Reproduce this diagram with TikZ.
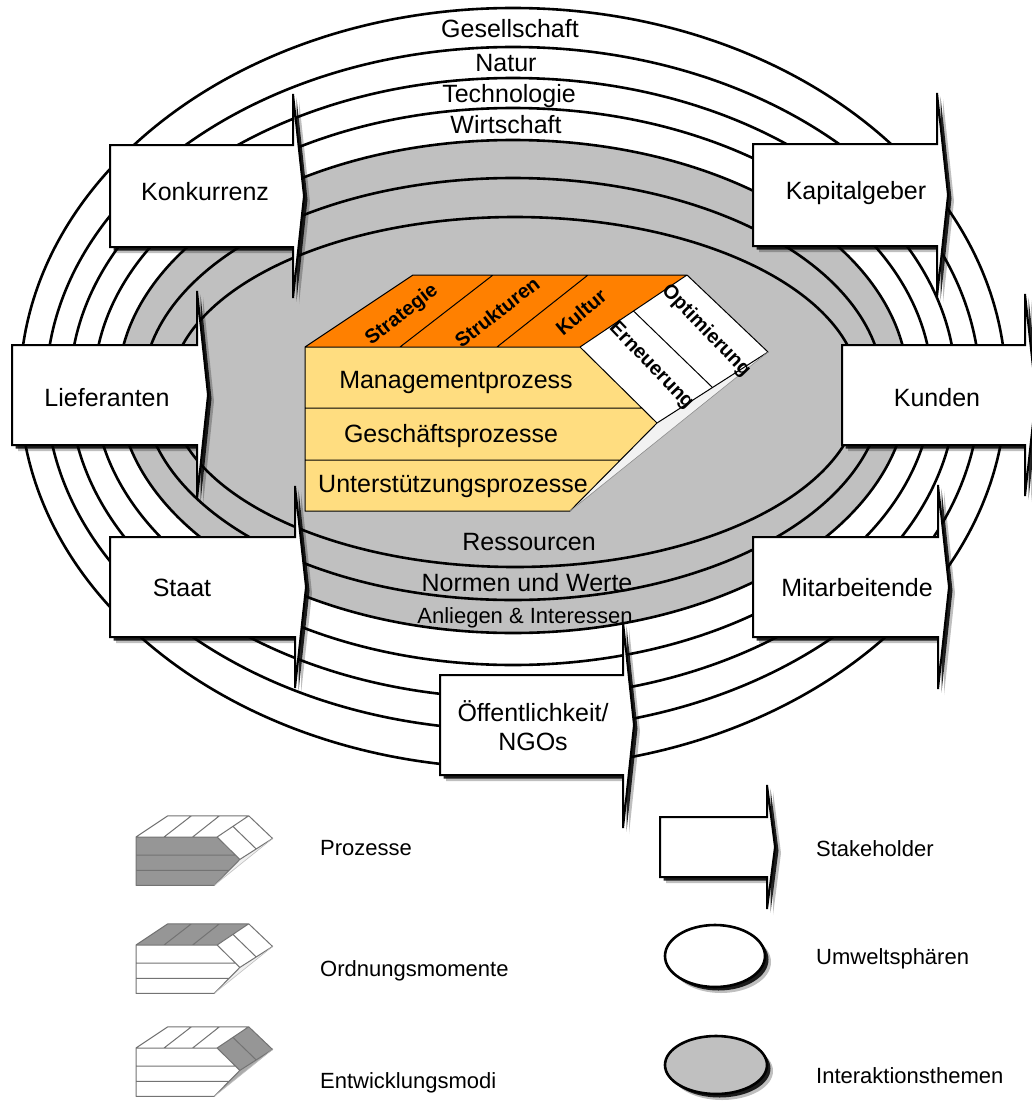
\documentclass[tikz,border=0pt]{standalone}
\usepackage{fontspec}
\setmainfont{Liberation Sans}
\usetikzlibrary{shadows}

\definecolor{ringgrey}{RGB}{192,192,192}
\definecolor{cubeorange}{RGB}{255,128,0}
\definecolor{cubeyellow}{RGB}{255,221,128}
\definecolor{iconfill}{RGB}{150,150,150}
\definecolor{iconline}{RGB}{115,115,115}

\tikzset{
  ring/.style={draw=black, line width=2.6pt},
  sphere/.style={ring, fill=white},
  theme/.style={ring, fill=ringgrey},
  softshadow/.style={
    drop shadow={shadow xshift=6pt, shadow yshift=-6pt, opacity=0.25, fill=black},
    drop shadow={shadow xshift=3.5pt, shadow yshift=-3.5pt, opacity=0.85, fill=black}},
  stakeshape/.style={draw=black, line width=2pt, fill=white, line join=miter, softshadow},
  legendoval/.style={draw=black, line width=2.6pt, softshadow},
  biglabel/.style={font=\fontsize{25}{29}\selectfont, inner sep=0pt, anchor=base},
  smalllabel/.style={font=\fontsize{22}{26}\selectfont, inner sep=0pt, anchor=base},
  legendlabel/.style={font=\fontsize{22}{26}\selectfont, inner sep=0pt, anchor=base west},
  facelabel/.style={font=\fontsize{20}{23}\selectfont\bfseries, inner sep=0pt},
}

% stakeholder arrow: #1 name, #2 left x, #3 head x, #4 centre y,
% #5 half body height, #6 half head height, #7 tip depth
\newcommand\stakearrow[7]{%
  \path[stakeshape] (#2,#4-#5) -- (#3,#4-#5) -- (#3,#4-#6) -- (#3+#7,#4)
     -- (#3,#4+#6) -- (#3,#4+#5) -- (#2,#4+#5) -- cycle;
  \coordinate (#1) at ({(#2+#3)/2},#4);
}

% model block: #1 front, #2 top, #3 end face, #4 underside, #5 edge colour
\newcommand\modelblock[5]{%
  \path[fill=#2] (0,0) -- (108,-72) -- (382,-72) -- (275,0) -- cycle;
  \path[fill=#1] (0,0) -- (275,0) -- (352,76) -- (265,164) -- (0,164) -- cycle;
  \path[fill=#3] (275,0) -- (382,-72) -- (463,5) -- (352,76) -- cycle;
  \path[fill=#4] (352,76) -- (463,5) -- (265,164) -- cycle;
  \draw[#5, line width=1pt, line join=round]
    (0,0) -- (108,-72) -- (382,-72) -- (275,0) -- cycle
    (0,0) -- (275,0) -- (352,76) -- (265,164) -- (0,164) -- cycle
    (382,-72) -- (463,5) -- (352,76)
    (0,61) -- (337,61) (0,113) -- (315,113)
    (95,0) -- (188,-72) (192,0) -- (283,-72)
    (328.5,-36) -- (407.5,40.5);
  \draw[#5!45, line width=0.6pt] (463,5) -- (265,164);
}

\begin{document}
\begin{tikzpicture}[x=1pt, y=-1pt]
  \useasboundingbox (0,0) rectangle (1032,1103);
  \fill[white] (0,0) rectangle (1032,1103);

  % environment spheres and interaction themes
  \draw[sphere] (513,388) ellipse [x radius=493, y radius=380];
  \draw[sphere] (513,388.5) ellipse [x radius=467, y radius=341.5];
  \draw[sphere] (513,388) ellipse [x radius=443, y radius=310];
  \draw[sphere] (513,386.5) ellipse [x radius=419, y radius=278.5];
  \draw[theme] (513,386.5) ellipse [x radius=395, y radius=246.5];
  \draw[theme] (513,389) ellipse [x radius=370, y radius=211];
  \draw[theme] (515,392) ellipse [x radius=345, y radius=175];

  \node[biglabel] (gesellschaft) at (510,37) {Gesellschaft};
  \node[biglabel] (natur) at (506,71) {Natur};
  \node[biglabel] (technologie) at (509,102) {Technologie};
  \node[biglabel] (wirtschaft) at (506,133) {Wirtschaft};
  \node[biglabel] (ressourcen) at (529,550) {Ressourcen};
  \node[biglabel] (normen) at (527,591) {Normen und Werte};
  \node[smalllabel] (anliegen) at (525,623) {Anliegen \& Interessen};

  % stakeholders
  \stakearrow{konk}{110}{293}{196}{51}{102}{11}
  \stakearrow{kapi}{753}{937}{195}{51}{102}{11}
  \stakearrow{lief}{12}{197}{395}{50}{104}{11}
  \stakearrow{kund}{842}{1025}{395}{50}{101}{11}
  \stakearrow{staa}{110}{295}{587}{50}{101}{11}
  \stakearrow{mita}{753}{938}{587}{50}{102}{11}
  \stakearrow{oeff}{440}{623}{725}{50}{103}{11}

  \node[biglabel] (konkurrenz) at (205,200) {Konkurrenz};
  \node[biglabel] (kapitalgeber) at (856,199) {Kapitalgeber};
  \node[biglabel] (lieferanten) at (107,406) {Lieferanten};
  \node[biglabel] (kunden) at (937,406) {Kunden};
  \node[biglabel] (staat) at (182,596) {Staat};
  \node[biglabel] (mitarbeitende) at (857,596) {Mitarbeitende};
  \node[font=\fontsize{25}{29}\selectfont, inner sep=0pt, align=center]
    (oeffentlichkeit) at (533,726) {Öffentlichkeit/\\NGOs};

  % the company model
  \begin{scope}[shift={(305,347)}]
    \modelblock{cubeyellow}{cubeorange}{white}{black!5}{black}
  \end{scope}
  \node[biglabel] (mgmt) at (456,388) {Managementprozess};
  \node[biglabel] (gesch) at (451,442) {Geschäftsprozesse};
  \node[biglabel] (unter) at (453,492) {Unterstützungsprozesse};
  \node[facelabel, rotate=38] (strategie) at (402,315) {Strategie};
  \node[facelabel, rotate=38] (strukturen) at (497,312) {Strukturen};
  \node[facelabel, rotate=40] (kultur) at (581,312) {Kultur};
  \node[facelabel, rotate=-46] (erneuerung) at (651,366) {Erneuerung};
  \node[facelabel, rotate=-46] (optimierung) at (706,331) {Optimierung};

  % legend
  \begin{scope}[shift={(136,837)}, scale=0.295]
    \modelblock{iconfill}{white}{white}{black!6}{iconline}
  \end{scope}
  \begin{scope}[shift={(136,945)}, scale=0.295]
    \modelblock{white}{iconfill}{white}{black!6}{iconline}
  \end{scope}
  \begin{scope}[shift={(136,1048)}, scale=0.295]
    \modelblock{white}{white}{iconfill}{iconfill!80}{iconline}
  \end{scope}
  \node[legendlabel] (lprozesse) at (320,855) {Prozesse};
  \node[legendlabel] (lordnung) at (320,976) {Ordnungsmomente};
  \node[legendlabel] (lentwicklung) at (320,1088) {Entwicklungsmodi};

  \stakearrow{lstake}{660}{767}{847}{30}{62}{8}
  \draw[legendoval, fill=white] (715,956) ellipse [x radius=50, y radius=31];
  \draw[legendoval, fill=ringgrey] (716,1065) ellipse [x radius=51, y radius=29];
  \node[legendlabel] (lstakeholder) at (816,856) {Stakeholder};
  \node[legendlabel] (lumwelt) at (816,964) {Umweltsphären};
  \node[legendlabel] (linteraktion) at (816,1083) {Interaktionsthemen};
\end{tikzpicture}
\end{document}
